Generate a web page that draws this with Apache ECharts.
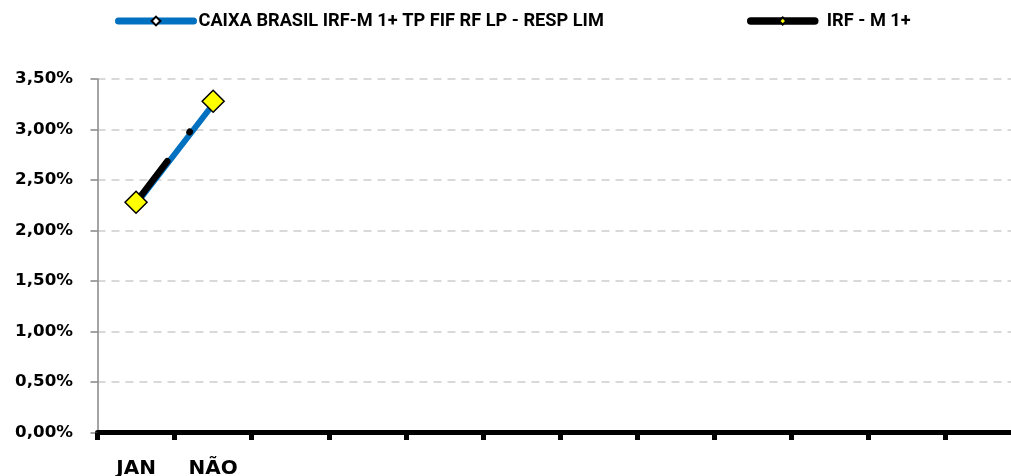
<!DOCTYPE html>
<html>
<head>
<meta charset="utf-8">
<script src="https://cdn.jsdelivr.net/npm/echarts@6/dist/echarts.min.js"></script>
<style>
html,body{margin:0;padding:0;background:#fff;}
#chart{width:1011px;height:476px;}
</style>
</head>
<body>
<div id="chart"></div>
<script>
var categories = ['JAN', 'NÃO', '', '', '', '', '', '', '', '', '', ''];
var caixaValues = [2.26, 3.25];
var irfValues = [2.28, 3.28];
var seriesNames = ['CAIXA BRASIL IRF-M 1+ TP FIF RF LP - RESP LIM', 'IRF - M 1+'];
var yMin = 0, yMax = 3.5, yStep = 0.5;

var chart = echarts.init(document.getElementById('chart'), null, {renderer: 'canvas'});
var option = {
  animation: false,
  backgroundColor: '#ffffff',
  legend: [
    {
      data: [{name: seriesNames[0]}],
      left: 110, top: 7,
      itemWidth: 75, itemHeight: 11, itemGap: 5,
      textStyle: {fontFamily: 'Roboto', fontWeight: 'bold', fontSize: 18.2, color: '#000'},
      lineStyle: {width: 7, type: 'solid', cap: 'round'},
      selectedMode: false
    },
    {
      data: [{name: seriesNames[1]}],
      left: 742, top: 7,
      itemWidth: 64, itemHeight: 9, itemGap: 5,
      textStyle: {fontFamily: 'Roboto', fontWeight: 'bold', fontSize: 18.2, color: '#000', padding: [0, 0, 0, 7]},
      lineStyle: {width: 7.5, type: 'solid', cap: 'round'},
      selectedMode: false
    }
  ],
  grid: {left: 97.5, right: -11.6, top: 79, bottom: 43.5, containLabel: false, outerBoundsMode: 'none'},
  xAxis: {
    type: 'category',
    data: categories,
    boundaryGap: true,
    axisLine: {lineStyle: {color: '#000', width: 5}},
    axisTick: {show: true, length: 7.5, lineStyle: {color: '#000', width: 5}},
    axisLabel: {
      interval: 0, margin: 26,
      fontFamily: 'DejaVu Sans', fontWeight: 'bold', fontSize: 20, color: '#000'
    },
    splitLine: {show: false}
  },
  yAxis: {
    type: 'value',
    min: yMin, max: yMax, interval: yStep,
    axisLine: {show: true, lineStyle: {color: '#868686', width: 1.5}},
    axisTick: {show: true, length: 7, lineStyle: {color: '#868686', width: 1.5}},
    axisLabel: {
      margin: 24.5,
      fontFamily: 'DejaVu Sans', fontWeight: 'bold', fontSize: 16.7, color: '#000',
      formatter: function (v) { return v.toFixed(2).replace('.', ',') + '%'; }
    },
    splitLine: {show: true, lineStyle: {color: '#D9D9D9', width: 2, type: [8, 6]}}
  },
  series: [
    {
      name: seriesNames[0],
      type: 'line',
      data: caixaValues,
      symbol: 'diamond',
      symbolSize: 12,
      showSymbol: true,
      lineStyle: {color: '#0070C0', width: 6, cap: 'round'},
      itemStyle: {color: '#ffffff', borderColor: '#000000', borderWidth: 2},
      z: 2
    },
    {
      name: seriesNames[1],
      type: 'line',
      data: irfValues,
      symbol: 'diamond',
      symbolSize: 22,
      showSymbol: true,
      lineStyle: {color: '#000000', width: 6.5, cap: 'round', type: [51.5, 36.6, 0.5, 36.6]},
      itemStyle: {color: '#FFFF00', borderColor: '#000000', borderWidth: 1.5},
      z: 3
    }
  ]
};
chart.setOption(option);
</script>
</body>
</html>
